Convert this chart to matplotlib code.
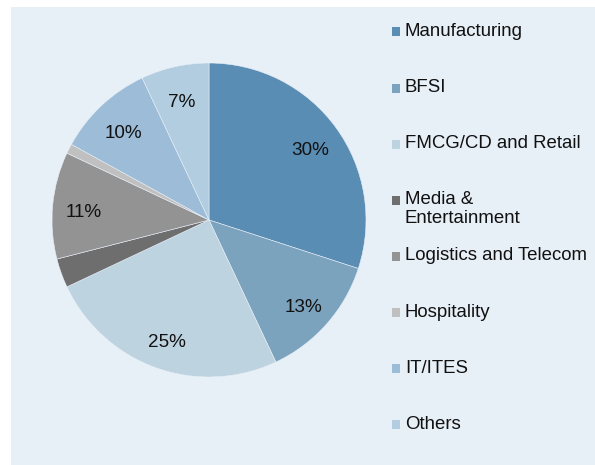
import matplotlib
matplotlib.use("Agg")
import matplotlib.pyplot as plt
from matplotlib.patches import Rectangle

categories = ["Manufacturing", "BFSI", "FMCG/CD and Retail", "Media &\nEntertainment",
              "Logistics and Telecom", "Hospitality", "IT/ITES", "Others"]
shares = [30, 13, 25, 3, 11, 1, 10, 7]
colors = ["#5A8DB3", "#7BA3BE", "#BDD3E0", "#6E6E6E", "#939393", "#C0C0C0", "#9DBCD7", "#B2CDE0"]
min_labeled = 5

plt.rcParams['font.family'] = ['Liberation Sans', 'DejaVu Sans']

W, H = 595, 465
fig = plt.figure(figsize=(W / 100, H / 100), dpi=100, facecolor="white")
bg = "#E7EFF7"
fig.patches.append(Rectangle((11 / W, 0), (W - 11) / W, (H - 7) / H,
                             transform=fig.transFigure, facecolor=bg, edgecolor="none", zorder=-5))

cx, cy, r = 209, 220, 157
ax = fig.add_axes([(cx - r) / W, (H - cy - r) / H, 2 * r / W, 2 * r / H])
ax.set_facecolor("none")
ax.set_zorder(5)


def fmt(p):
    return f"{p:.0f}%" if p >= min_labeled else ""


wedges, texts, autotexts = ax.pie(shares, colors=colors, startangle=90, counterclock=False,
                                  autopct=fmt, pctdistance=0.80, radius=1.0,
                                  wedgeprops=dict(edgecolor="#E7EFF7", linewidth=0.4),
                                  textprops=dict(fontsize=13.6, color="#111111"))
for t in autotexts:
    x, y = t.get_position()
    t.set_position((x, y - 0.03))
ax.set_xlim(-1, 1)
ax.set_ylim(-1, 1)
ax.set_aspect("equal")

# legend (manual, marker aligned with first text line)
x_mark = 391.5
x_text = 405
y0 = 32
step = 56.1
for i, (cat, col) in enumerate(zip(categories, colors)):
    y = y0 + i * step
    fig.patches.append(Rectangle((x_mark / W, 1 - (y + 4.5) / H), 9 / W, 9 / H,
                                 transform=fig.transFigure, facecolor=col, edgecolor="none", zorder=2))
    fig.text(x_text / W, 1 - (y - 9) / H, cat, fontsize=13.4, color="#111111",
             ha="left", va="top", linespacing=1.1, zorder=6)

fig.savefig("out.png", dpi=100, facecolor="white")
